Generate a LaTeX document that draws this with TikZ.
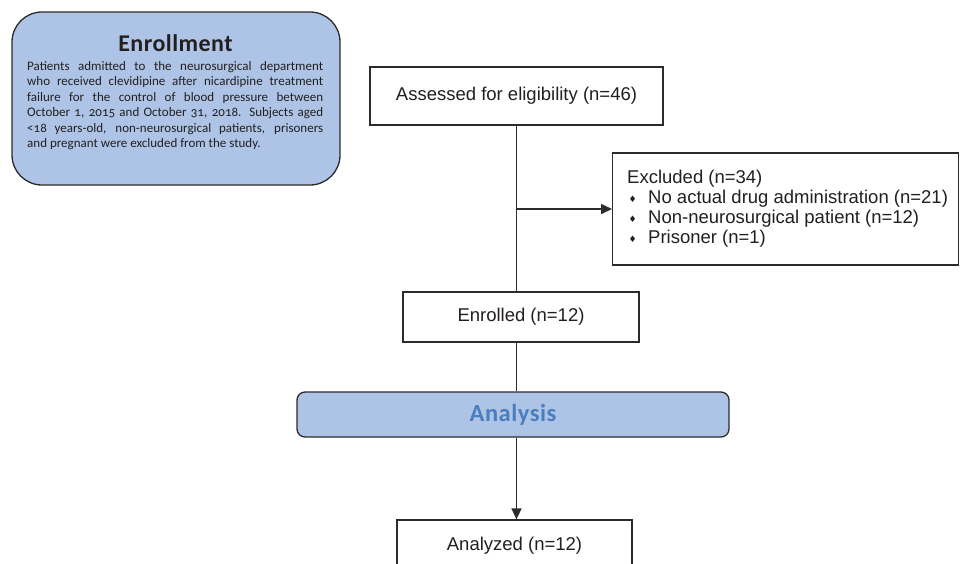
\documentclass[tikz,border=0pt]{standalone}
\usepackage{fontspec}
\setmainfont{Liberation Sans}
\newfontfamily\candara[Numbers=OldStyle]{Carlito}
\newfontfamily\symfont{DejaVu Sans}
\usetikzlibrary{arrows.meta}
\definecolor{boxblue}{HTML}{AEC4E6}
\definecolor{titleblue}{HTML}{4A7EC0}
\definecolor{linegray}{HTML}{2B2B2B}
\definecolor{txt}{HTML}{231F20}
\newcommand{\dbul}{\makebox[21pt][l]{\hspace{1.5pt}\raisebox{1.2pt}{\symfont\fontsize{9}{9}\selectfont ♦}}}
\begin{document}
\begin{tikzpicture}[x=1pt,y=-1pt,
  flowtext/.style={text=txt,font=\fontsize{18.5}{20}\selectfont},
  flowbox/.style={draw=linegray,line width=1.3pt,fill=white,inner sep=0pt,flowtext},
  bluebox/.style={draw=linegray,line width=1.3pt,fill=boxblue,inner sep=0pt},
  conn/.style={draw=linegray,line width=1.5pt},
  arr/.style={conn,-{Triangle[length=11pt,width=10pt]}}]
\useasboundingbox (0,0) rectangle (960,563);
\clip (0,0) rectangle (960,563);
% Enrollment box
\node[bluebox,rounded corners=30pt,minimum width=328pt,minimum height=173pt] (enroll) at (176,98.5) {};
\node[anchor=base,text=txt,inner sep=0pt,font=\candara\bfseries\fontsize{24}{26}\selectfont\addfontfeatures{LetterSpace=2}] (enrolltitle) at (175.5,51) {Enrollment};
\node[anchor=base west,inner sep=0pt,text=txt,font=\candara\fontsize{13}{15.5}\selectfont] (enrolltext) at (27,70)
 {\begin{minipage}[t]{296pt}
 Patients admitted to the neurosurgical department\linebreak
 who received clevidipine after nicardipine treatment\linebreak
 failure for the control of blood pressure between\linebreak
 October 1, 2015 and October 31, 2018. Subjects aged\linebreak
 <18 years-old, non-neurosurgical patients, prisoners\linebreak
 and pregnant were excluded from the study.\end{minipage}};
% Flow boxes
\node[flowbox,minimum width=293pt,minimum height=58pt] (assess) at (516.5,96) {Assessed for eligibility (n=46)};
\node[flowbox,minimum width=346pt,minimum height=112pt,anchor=west] (excl) at (612,209) {};
\node[flowtext,anchor=west,align=left,inner sep=0pt] (excltext) at (627,209)
 {Excluded (n=34)\\
  \dbul No actual drug administration (n=21)\\
  \dbul Non-neurosurgical patient (n=12)\\
  \dbul Prisoner (n=1)};
\node[flowbox,minimum width=236pt,minimum height=50pt] (enrolled) at (521,317) {Enrolled (n=12)};
\node[bluebox,rounded corners=8pt,minimum width=432pt,minimum height=45pt,text=titleblue,
  font=\candara\bfseries\fontsize{24.5}{26}\selectfont\addfontfeatures{LetterSpace=2}] (analysis) at (513,414.5) {Analysis};
\node[flowbox,minimum width=235pt,minimum height=52pt] (analyzed) at (514.5,546) {Analyzed (n=12)};
% Connectors
\coordinate (branch) at (assess.south |- excl.west);
\draw[conn] (assess.south) -- (assess.south |- enrolled.north);
\draw[arr] (branch) -- (excl.west);
\draw[conn] (assess.south |- enrolled.south) -- (assess.south |- analysis.north);
\draw[arr] (assess.south |- analysis.south) -- (assess.south |- analyzed.north);
\end{tikzpicture}
\end{document}
